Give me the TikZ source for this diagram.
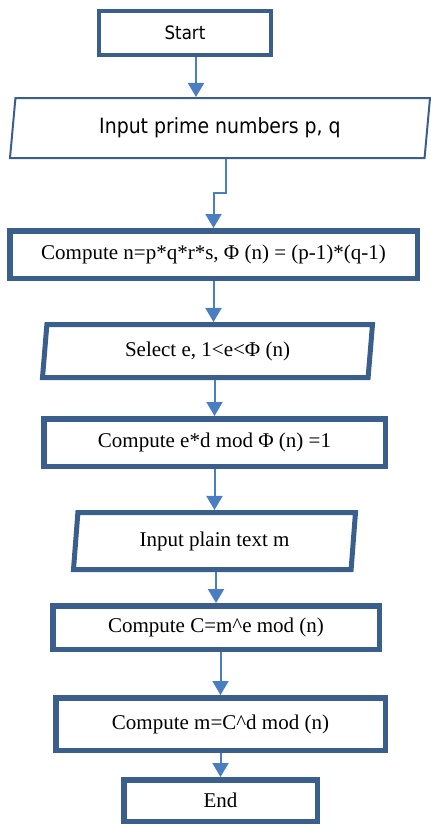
\documentclass[tikz,border=0pt]{standalone}
\usepackage{fontspec}
\setmainfont{Liberation Serif}
\newfontfamily\tahoma{DejaVu Sans Condensed}
\usetikzlibrary{shapes.geometric,arrows.meta}
\definecolor{boxblue}{HTML}{3B5F8D}
\definecolor{arrowblue}{HTML}{4A7EC2}

\begin{document}
\begin{tikzpicture}[x=1pt,y=-1pt,
        box/.style={draw=boxblue,line width=5.5pt,rectangle,inner sep=0pt,
                    font=\fontsize{21}{25}\selectfont},
        slant/.style={draw=boxblue,line width=5pt,shape=trapezium,
                      trapezium stretches body,inner sep=0pt,
                      font=\fontsize{21}{25}\selectfont},
        arr/.style={arrowblue,line width=2pt,-{Triangle[width=16pt,length=14pt]}}]

        \useasboundingbox (0,0) rectangle (431,825);

        \node[box,line width=4pt,minimum width=172pt,minimum height=44pt,
              font=\tahoma\fontsize{18.5}{22}\selectfont] (start) at (185,33) {Start};
        \node[slant,line width=2pt,trapezium left angle=75,trapezium right angle=105,
              minimum width=420pt,minimum height=60pt,
              font=\tahoma\fontsize{21}{25}\selectfont] (inp) at (220,128) {Input prime numbers p, q};
        \node[box,minimum width=407.5pt,minimum height=47.5pt] (c1) at (213.5,254.5)
              {Compute n=p*q*r*s, Φ (n) = (p-1)*(q-1)};
        \node[slant,trapezium left angle=77,trapezium right angle=103,
              minimum width=330pt,minimum height=53pt] (sel) at (207.5,351) {Select e, 1<e<Φ (n)};
        \node[box,minimum width=341.5pt,minimum height=47.5pt] (ced) at (214.5,442.5)
              {Compute e*d mod Φ (n) =1};
        \node[slant,trapezium left angle=77,trapezium right angle=103,
              minimum width=282pt,minimum height=57pt] (inpm) at (214.5,541) {Input plain text m};
        \node[box,minimum width=326.5pt,minimum height=43.5pt] (cC) at (216,627.5) {Compute C=m\^{}e mod (n)};
        \node[box,minimum width=329.5pt,minimum height=52.5pt] (cm) at (220.5,724) {Compute m=C\^{}d mod (n)};
        \node[box,minimum width=193.5pt,minimum height=41.5pt] (end) at (220.5,800.5) {End};

        \draw[arr] ([xshift=11pt]start.south) -- ([xshift=11pt]start.south |- inp.north);
        \draw[arr] ([xshift=6pt]inp.south) -- ++(0,34) -| (c1.north);
        \draw[arr] (c1.south) -- (c1.south |- sel.north);
        \draw[arr] (ced.north |- sel.south) -- (ced.north);
        \draw[arr] (ced.south) -- (ced.south |- inpm.north);
        \draw[arr] (cC.north |- inpm.south) -- (cC.north);
        \draw[arr] (cm.north |- cC.south) -- (cm.north);
        \draw[arr] (cm.south) -- (end.north);
\end{tikzpicture}
\end{document}
